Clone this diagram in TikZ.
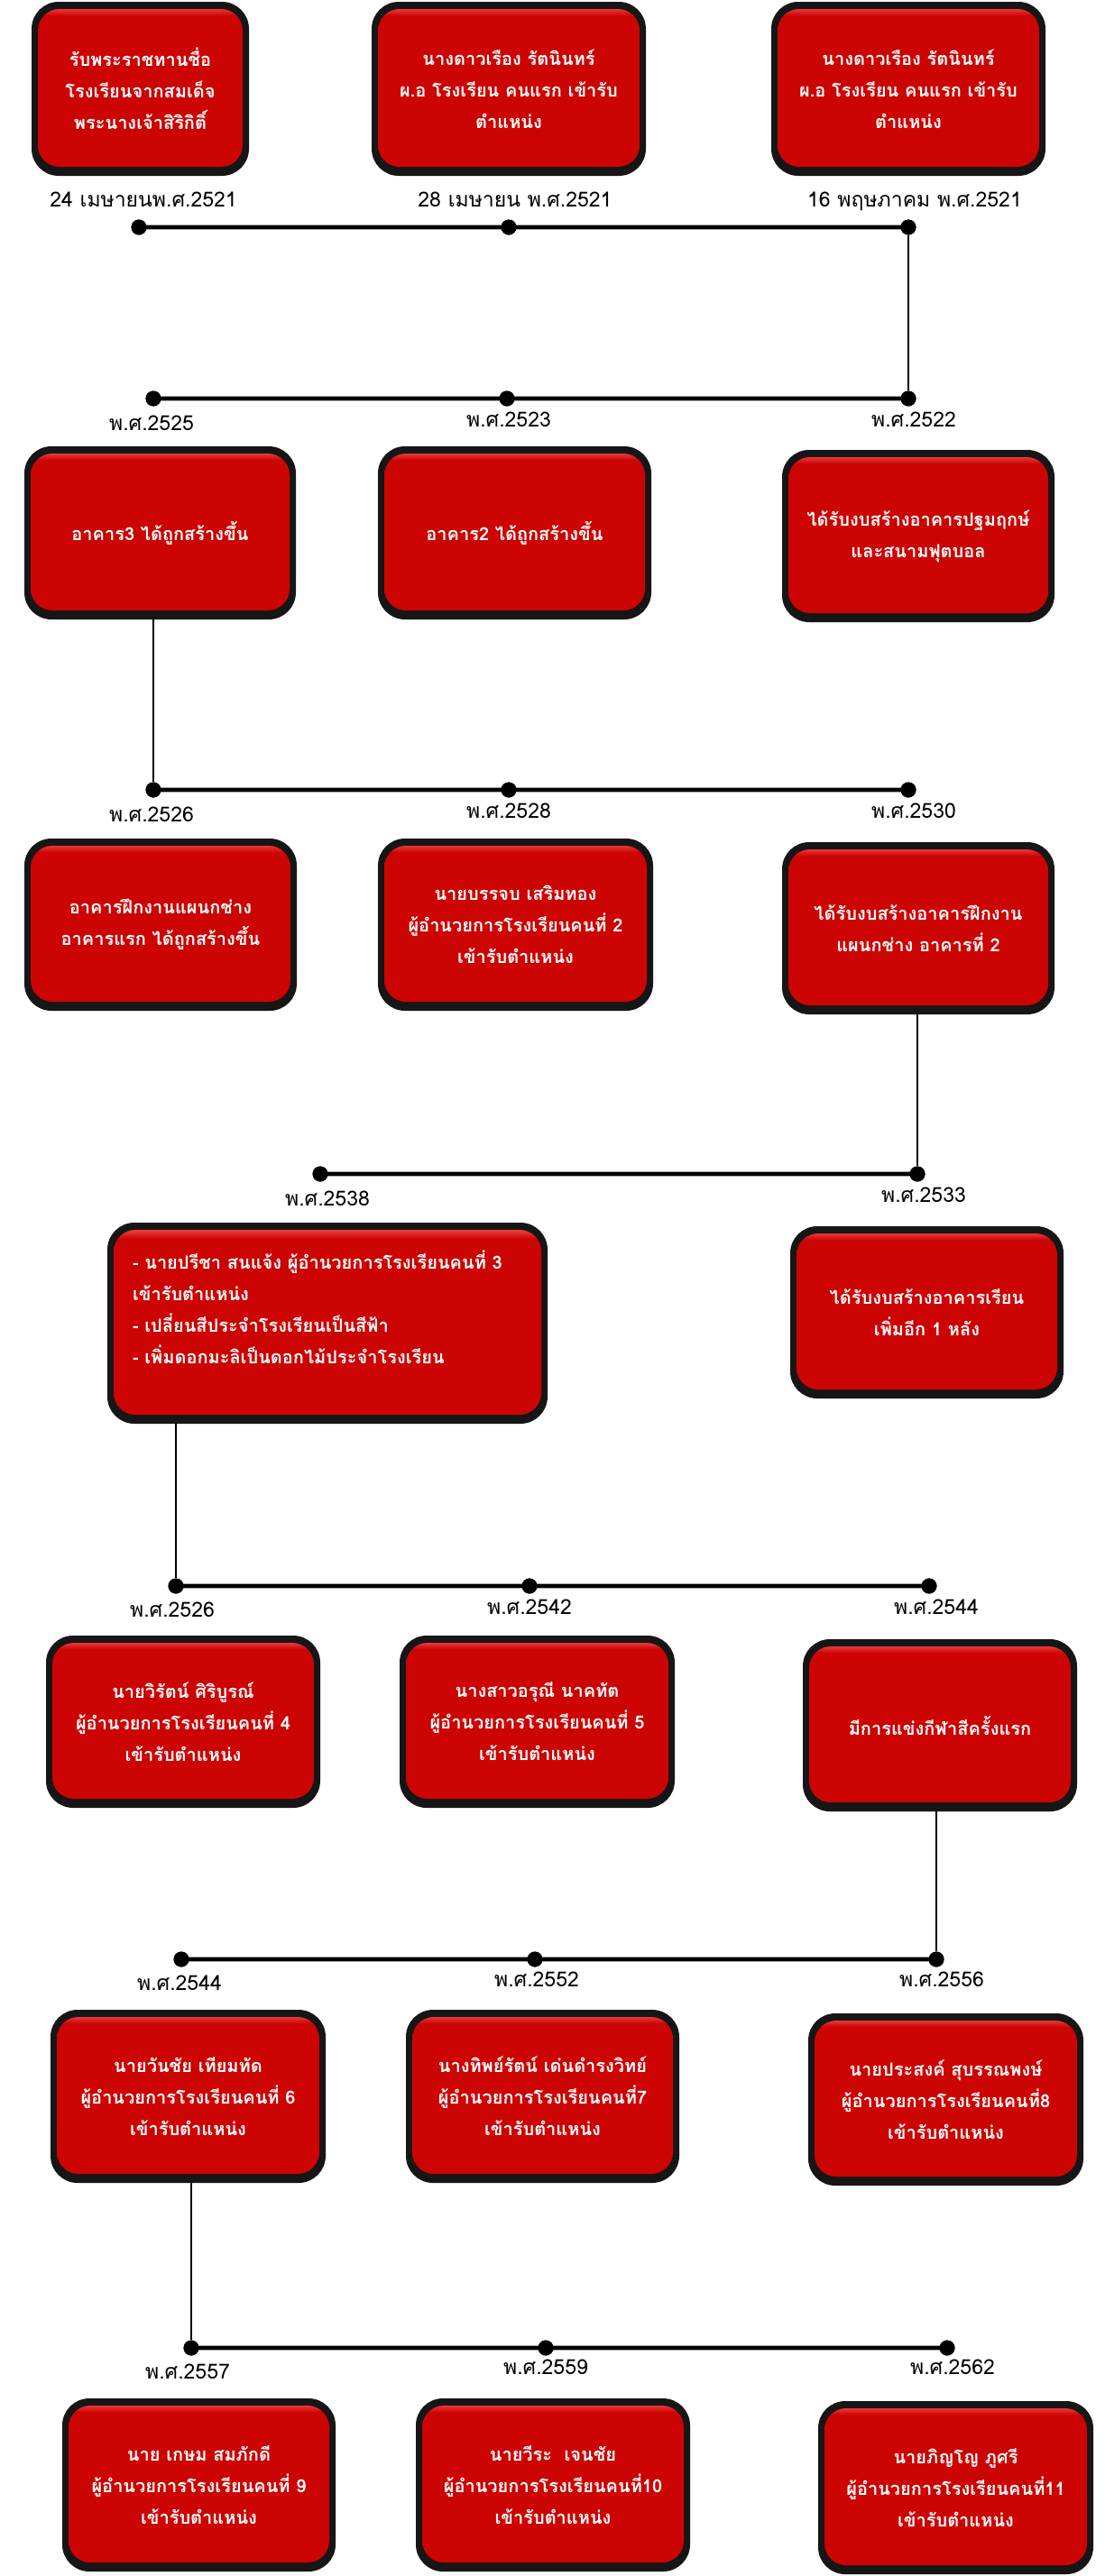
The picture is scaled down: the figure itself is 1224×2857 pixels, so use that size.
\documentclass[tikz,border=0pt]{standalone}
\usepackage{fontspec}
\newfontfamily\thai[Script=Thai]{Loma}
\usetikzlibrary{calc}
\definecolor{rmain}{RGB}{204,4,4}
\definecolor{rlight}{RGB}{245,70,70}
\definecolor{rdark}{RGB}{110,0,0}
\definecolor{rim}{RGB}{22,22,22}
\pgfdeclareverticalshading{redgloss}{100bp}{color(0bp)=(rdark); color(25bp)=(rdark); color(27bp)=(rmain); color(71bp)=(rmain); color(73.5bp)=(rlight); color(75bp)=(rmain!60!rlight); color(100bp)=(rmain)}
\tikzset{
  evbox/.style={rounded corners=30pt, fill=rim, inner sep=0pt, text=white, align=center,
    font={\thai\bfseries\fontsize{20}{35}\selectfont},
    path picture={\shade[shading=redgloss, rounded corners=24pt]
      ([xshift=7pt,yshift=10pt]path picture bounding box.south west) rectangle
      ([xshift=-7pt,yshift=-8pt]path picture bounding box.north east);}},
  dot/.style={circle, fill=black, minimum size=17pt, inner sep=0pt},
  datelab/.style={anchor=base, inner sep=0pt, font={\thai\fontsize{23}{28}\selectfont}},
  tshadow/.style={line width=5.5pt, black!35},
  tline/.style={line width=3.5pt, black},
  vline/.style={line width=2.6pt, black}
}
\begin{document}
\begin{tikzpicture}[x=1pt,y=-1pt]
\useasboundingbox[fill=white] (0,0) rectangle (1224,2857);
% ---------- row 1
\node[evbox, minimum width=241pt, minimum height=193pt] (r1a) at (155.5,98.5) {รับพระราชทานชื่อ\\โรงเรียนจากสมเด็จ\\พระนางเจ้าสิริกิติ์};
\node[evbox, minimum width=304pt, minimum height=193pt] (r1b) at (564,98.5) {นางดาวเรือง รัตนินทร์\\ผ.อ โรงเรียน คนแรก เข้ารับ\\ตำแหน่ง};
\node[evbox, minimum width=304pt, minimum height=193pt] (r1c) at (1007,98.5) {นางดาวเรือง รัตนินทร์\\ผ.อ โรงเรียน คนแรก เข้ารับ\\ตำแหน่ง};
\node[datelab] (l1a) at (159,229) {24 เมษายนพ.ศ.2521};
\node[datelab] (l1b) at (571,229) {28 เมษายน พ.ศ.2521};
\node[datelab] (l1c) at (1014,229) {16 พฤษภาคม พ.ศ.2521};
\node[dot] (d11) at (154,252) {};
\node[dot] (d12) at (564,252) {};
\node[dot] (d13) at (1007,252) {};
% ---------- timeline 2
\node[dot] (d21) at (170,442) {};
\node[dot] (d22) at (562,442) {};
\node[dot] (d23) at (1007,442) {};
\node[datelab] (l2a) at (168,477) {พ.ศ.2525};
\node[datelab] (l2b) at (564,473) {พ.ศ.2523};
\node[datelab] (l2c) at (1013,473) {พ.ศ.2522};
\node[evbox, minimum width=301pt, minimum height=192pt] (r2a) at (177.5,591) {อาคาร3 ได้ถูกสร้างขึ้น};
\node[evbox, minimum width=303pt, minimum height=192pt] (r2b) at (570.5,591) {อาคาร2 ได้ถูกสร้างขึ้น};
\node[evbox, minimum width=302pt, minimum height=191pt] (r2c) at (1018,594.5) {ได้รับงบสร้างอาคารปฐมฤกษ์\\และสนามฟุตบอล};
% ---------- timeline 3
\node[dot] (d31) at (170,876) {};
\node[dot] (d32) at (564,876) {};
\node[dot] (d33) at (1007,876) {};
\node[datelab] (l3a) at (168,911) {พ.ศ.2526};
\node[datelab] (l3b) at (564,907) {พ.ศ.2528};
\node[datelab] (l3c) at (1013,907) {พ.ศ.2530};
\node[evbox, minimum width=302pt, minimum height=191pt] (r3a) at (178,1025.5) {อาคารฝึกงานแผนกช่าง\\อาคารแรก ได้ถูกสร้างขึ้น};
\node[evbox, minimum width=305pt, minimum height=191pt] (r3b) at (571.5,1025.5) {นายบรรจบ เสริมทอง\\ผู้อำนวยการโรงเรียนคนที่ 2\\เข้ารับตำแหน่ง};
\node[evbox, minimum width=302pt, minimum height=191pt] (r3c) at (1018,1029.5) {ได้รับงบสร้างอาคารฝึกงาน\\แผนกช่าง อาคารที่ 2};
% ---------- timeline 4
\node[dot] (d41) at (355,1302) {};
\node[dot] (d42) at (1017,1302) {};
\node[datelab] (l4a) at (363,1337) {พ.ศ.2538};
\node[datelab] (l4b) at (1024,1333) {พ.ศ.2533};
\node[evbox, minimum width=488pt, minimum height=223pt, text width=432pt, align=left] (r4a) at (363,1467.5) {- นายปรีชา สนแจ้ง ผู้อำนวยการโรงเรียนคนที่ 3\\เข้ารับตำแหน่ง\\- เปลี่ยนสีประจำโรงเรียนเป็นสีฟ้า\\- เพิ่มดอกมะลิเป็นดอกไม้ประจำโรงเรียน\\ \mbox{}};
\node[evbox, minimum width=303pt, minimum height=191pt] (r4c) at (1027.5,1455.5) {ได้รับงบสร้างอาคารเรียน\\เพิ่มอีก 1 หลัง};
% ---------- timeline 5
\node[dot] (d51) at (195,1759) {};
\node[dot] (d52) at (587,1759) {};
\node[dot] (d53) at (1030,1759) {};
\node[datelab] (l5a) at (191,1793) {พ.ศ.2526};
\node[datelab] (l5b) at (587,1790) {พ.ศ.2542};
\node[datelab] (l5c) at (1038,1790) {พ.ศ.2544};
\node[evbox, minimum width=304pt, minimum height=191pt] (r5a) at (203,1909.5) {นายวิรัตน์ ศิริบูรณ์\\ผู้อำนวยการโรงเรียนคนที่ 4\\เข้ารับตำแหน่ง};
\node[evbox, minimum width=305pt, minimum height=191pt] (r5b) at (595.5,1909.5) {นางสาวอรุณี นาคทัต\\ผู้อำนวยการโรงเรียนคนที่ 5\\เข้ารับตำแหน่ง};
\node[evbox, minimum width=304pt, minimum height=191pt] (r5c) at (1042,1913.5) {มีการแข่งกีฬาสีครั้งแรก};
% ---------- timeline 6
\node[dot] (d61) at (201,2173) {};
\node[dot] (d62) at (593,2173) {};
\node[dot] (d63) at (1038,2173) {};
\node[datelab] (l6a) at (199,2207) {พ.ศ.2544};
\node[datelab] (l6b) at (595,2203) {พ.ศ.2552};
\node[datelab] (l6c) at (1044,2203) {พ.ศ.2556};
\node[evbox, minimum width=305pt, minimum height=192pt] (r6a) at (208.5,2325) {นายวันชัย เทียมทัด\\ผู้อำนวยการโรงเรียนคนที่ 6\\เข้ารับตำแหน่ง};
\node[evbox, minimum width=303pt, minimum height=192pt] (r6b) at (601.5,2325) {นางทิพย์รัตน์ เด่นดำรงวิทย์\\ผู้อำนวยการโรงเรียนคนที่7\\เข้ารับตำแหน่ง};
\node[evbox, minimum width=305pt, minimum height=191pt] (r6c) at (1048.5,2328.5) {นายประสงค์ สุบรรณพงษ์\\ผู้อำนวยการโรงเรียนคนที่8\\เข้ารับตำแหน่ง};
% ---------- timeline 7
\node[dot] (d71) at (212,2604) {};
\node[dot] (d72) at (605,2604) {};
\node[dot] (d73) at (1050,2604) {};
\node[datelab] (l7a) at (208,2638) {พ.ศ.2557};
\node[datelab] (l7b) at (605,2633) {พ.ศ.2559};
\node[datelab] (l7c) at (1056,2633) {พ.ศ.2562};
\node[evbox, minimum width=303pt, minimum height=192pt] (r7a) at (220.5,2756) {นาย เกษม สมภักดี\\ผู้อำนวยการโรงเรียนคนที่ 9\\เข้ารับตำแหน่ง};
\node[evbox, minimum width=304pt, minimum height=192pt] (r7b) at (613,2756) {นายวีระ\ \ เจนชัย\\ผู้อำนวยการโรงเรียนคนที่10\\เข้ารับตำแหน่ง};
\node[evbox, minimum width=305pt, minimum height=192pt] (r7c) at (1059.5,2759) {นายภิญโญ ภูศรี\\ผู้อำนวยการโรงเรียนคนที่11\\เข้ารับตำแหน่ง};
% ---------- timelines
\foreach \a/\b in {d11/d12,d12/d13,d21/d22,d22/d23,d31/d32,d32/d33,d41/d42,d51/d52,d52/d53,d61/d62,d62/d63,d71/d72,d72/d73}{
  \draw[tshadow] (\a.center) -- (\b.center);
  \draw[tline] (\a.center) -- (\b.center);
}
\foreach \d in {d11,d12,d13,d21,d22,d23,d31,d32,d33,d41,d42,d51,d52,d53,d61,d62,d63,d71,d72,d73}{
  \fill (\d.center) circle (8.5pt);
}
% ---------- vertical connectors
\draw[vline] (d13) -- (d23);
\draw[vline] (d31 |- r2a.south) -- (d31);
\draw[vline] (d42 |- r3c.south) -- (d42);
\draw[vline] (d51 |- r4a.south) -- (d51);
\draw[vline] (d63 |- r5c.south) -- (d63);
\draw[vline] (d71 |- r6a.south) -- (d71);
\end{tikzpicture}
\end{document}
